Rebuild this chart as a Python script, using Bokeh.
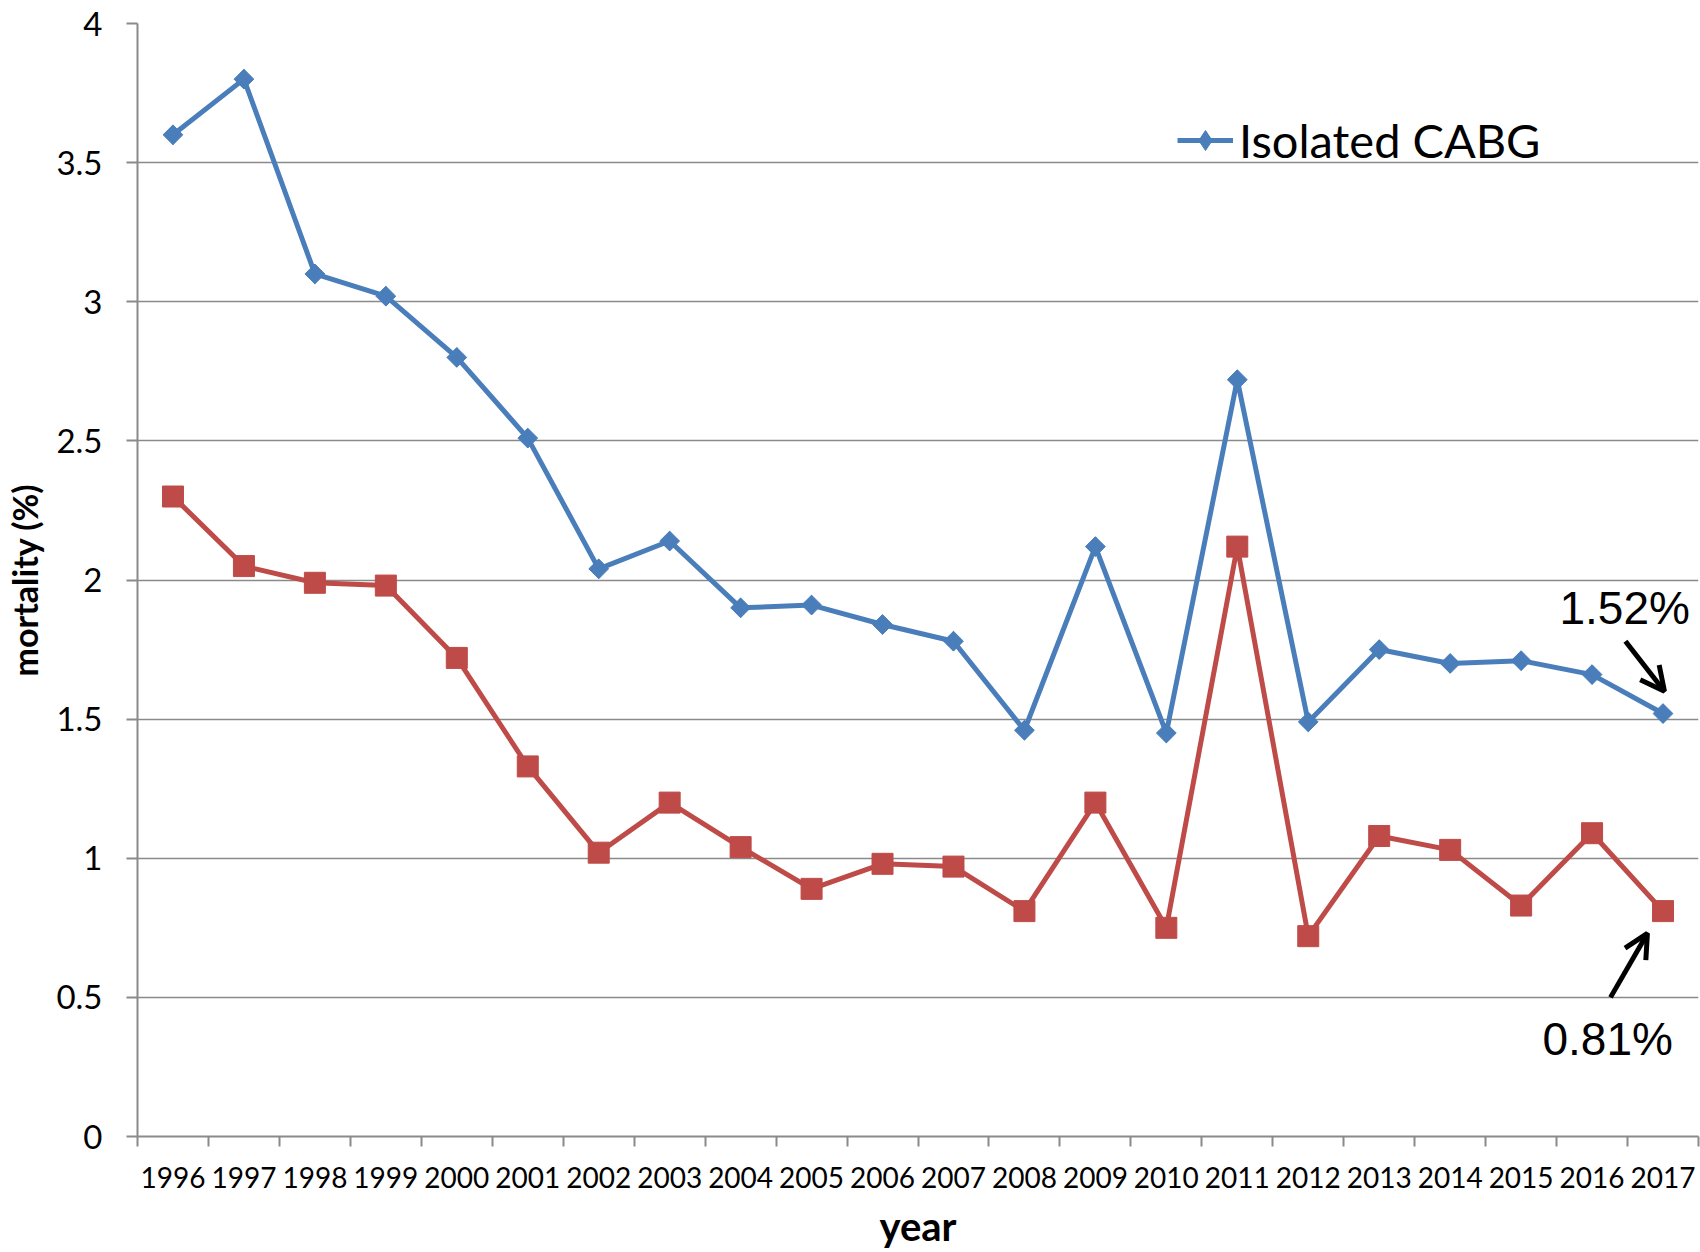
from bokeh.plotting import figure
from bokeh.models import (Range1d, FixedTicker, Label, Arrow, OpenHead, Legend, LegendItem)
from bokeh.embed import file_html
from bokeh.resources import INLINE
import math

years = ["1996", "1997", "1998", "1999", "2000", "2001", "2002", "2003", "2004", "2005", "2006",
         "2007", "2008", "2009", "2010", "2011", "2012", "2013", "2014", "2015", "2016", "2017"]
isolated_cabg = [3.60, 3.80, 3.10, 3.02, 2.80, 2.51, 2.04, 2.14, 1.90, 1.91, 1.84,
                 1.78, 1.46, 2.12, 1.45, 2.72, 1.49, 1.75, 1.70, 1.71, 1.66, 1.52]
second_series = [2.30, 2.05, 1.99, 1.98, 1.72, 1.33, 1.02, 1.20, 1.04, 0.89, 0.98,
                 0.97, 0.81, 1.20, 0.75, 2.12, 0.72, 1.08, 1.03, 0.83, 1.09, 0.81]
y_ticks = [0, 0.5, 1, 1.5, 2, 2.5, 3, 3.5, 4]
y_tick_labels = ["0", "0.5", "1", "1.5", "2", "2.5", "3", "3.5", "4"]
label_top = "1.52%"
label_bottom = "0.81%"
x_title = "year"
y_title = "mortality (%)"

n = len(years)
xs = [i + 0.5 for i in range(n)]
bounds = [float(i) for i in range(n + 1)]

BLUE = "#4A7EBB"
RED = "#BE4B48"
GRID = "#8A8A8A"
FONT = "Lato"

p = figure(width=1700, height=1252, output_backend="svg", toolbar_location=None,
           x_range=Range1d(0, n), y_range=Range1d(0, 4),
           min_border_left=137, min_border_right=2, min_border_top=23, min_border_bottom=116)
p.outline_line_color = None
p.background_fill_color = "white"
p.border_fill_color = "white"

# x axis
xa = p.xaxis[0]
xa.ticker = FixedTicker(ticks=xs, minor_ticks=bounds)
xa.major_label_overrides = {x: y for x, y in zip(xs, years)}
xa.major_tick_line_color = None
xa.minor_tick_line_color = GRID
xa.minor_tick_line_width = 2
xa.minor_tick_out = 10
xa.minor_tick_in = 0
xa.axis_line_color = GRID
xa.axis_line_width = 2
xa.major_label_text_font = FONT
xa.major_label_text_font_size = "28px"
xa.major_label_text_color = "black"
xa.major_label_standoff = 20
xa.axis_label = x_title
xa.axis_label_text_font = FONT
xa.axis_label_text_font_style = "bold"
xa.axis_label_text_font_size = "40px"
xa.axis_label_text_color = "black"
xa.axis_label_standoff = 11

# y axis
ya = p.yaxis[0]
ya.ticker = FixedTicker(ticks=y_ticks, minor_ticks=[])
ya.major_label_overrides = {t: l for t, l in zip(y_ticks, y_tick_labels)}
ya.major_tick_line_color = GRID
ya.major_tick_line_width = 2
ya.major_tick_out = 11
ya.major_tick_in = 0
ya.minor_tick_line_color = None
ya.axis_line_color = GRID
ya.axis_line_width = 2
ya.major_label_text_font = FONT
ya.major_label_text_font_size = "33px"
ya.major_label_text_color = "black"
ya.major_label_standoff = 24
ya.axis_label = y_title
ya.axis_label_text_font = FONT
ya.axis_label_text_font_style = "bold"
ya.axis_label_text_font_size = "34px"
ya.axis_label_text_color = "black"
ya.axis_label_standoff = 8

p.xgrid.grid_line_color = None
p.ygrid.ticker = FixedTicker(ticks=y_ticks)
p.ygrid.grid_line_color = GRID
p.ygrid.grid_line_width = 1.5

# series
r2l = p.line(xs, second_series, line_color=RED, line_width=5)
r2m = p.scatter(xs, second_series, marker="square", size=21, fill_color=RED, line_color=RED)

r1l = p.line(xs, isolated_cabg, line_color=BLUE, line_width=5)
# narrow diamond (hidden beneath the rotated square) supplies the legend swatch
r1d = p.scatter(xs, isolated_cabg, marker="diamond", size=19, fill_color=BLUE, line_color=BLUE)
r1m = p.scatter(xs, isolated_cabg, marker="square", size=14, angle=math.pi / 4,
                fill_color=BLUE, line_color=BLUE)

legend = Legend(items=[LegendItem(label="Isolated CABG", renderers=[r1l, r1d])],
                location=(1040, 968), orientation="vertical",
                label_text_font=FONT, label_text_font_size="47px", label_text_color="black",
                glyph_width=56, glyph_height=50, label_standoff=6,
                padding=0, margin=0, spacing=0,
                border_line_color=None, background_fill_alpha=0)
p.add_layout(legend, "center")

# annotations
p.add_layout(Label(x=20.96, y=1.90, text=label_top, text_font="Liberation Sans",
                   text_font_size="46px", text_align="center", text_baseline="alphabetic",
                   text_color="black"))
p.add_layout(Label(x=20.72, y=0.35, text=label_bottom, text_font="Liberation Sans",
                   text_font_size="46px", text_align="center", text_baseline="alphabetic",
                   text_color="black"))
p.add_layout(Arrow(x_start=20.97, y_start=1.78, x_end=21.52, y_end=1.60,
                   line_width=5, line_color="black",
                   end=OpenHead(size=24, line_width=5, line_color="black")))
p.add_layout(Arrow(x_start=20.76, y_start=0.50, x_end=21.28, y_end=0.73,
                   line_width=5, line_color="black",
                   end=OpenHead(size=24, line_width=5, line_color="black")))

open("out.html", "w").write(file_html(p, INLINE))
